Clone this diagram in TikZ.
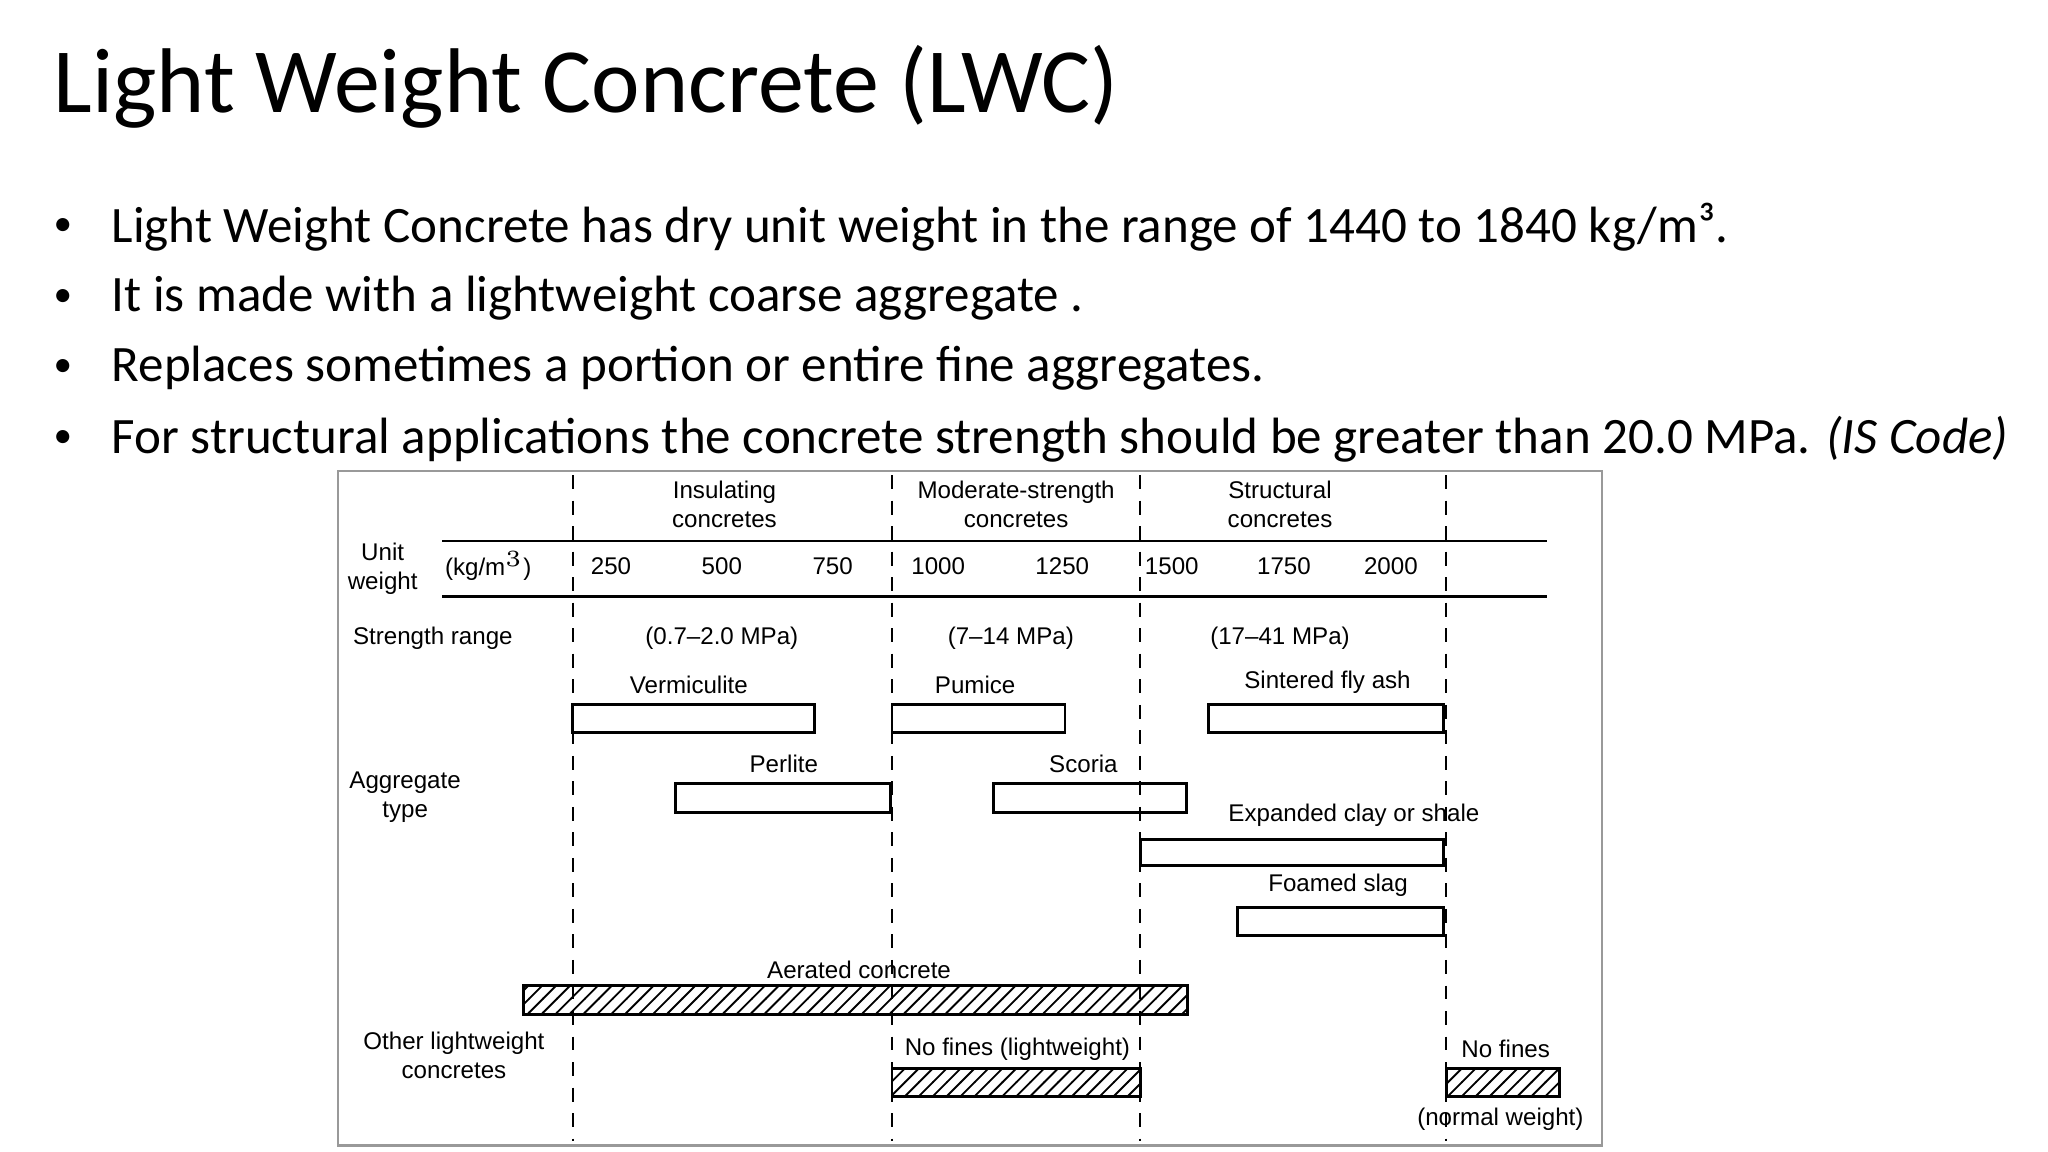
\documentclass[tikz,border=0pt]{standalone}
\usepackage{fontspec}
\setmainfont{Carlito}
\newfontfamily\chartfont{Liberation Sans}
\usetikzlibrary{patterns}
\begin{document}
\begin{tikzpicture}[x=0.01cm,y=-0.01cm,
  lbl/.style={font=\chartfont\fontsize{5.2}{6.2}\selectfont,inner sep=0pt,align=center},
  bul/.style={font=\fontsize{11}{13}\selectfont,anchor=west,inner sep=0pt},
  vline/.style={dashed,line width=0.5pt,dash pattern=on 3pt off 2.5pt},
  abox/.style={draw,line width=0.6pt},
  hbox/.style={draw,line width=0.6pt,pattern=north east lines}]
\useasboundingbox (0,0) rectangle (1552,873);
\node[anchor=base west,inner sep=0pt,font=\fontsize{19.8}{24}\selectfont] (title) at (40,85) {Light Weight Concrete (LWC)};
\foreach \y/\t [count=\i] in {172/{Light Weight Concrete has dry unit weight in the range of 1440 to 1840 kg/m³.},
  226/{It is made with a lightweight coarse aggregate .},
  279/{Replaces sometimes a portion or entire fine aggregates.},
  333/{For structural applications the concrete strength should be greater than 20.0 MPa. \textit{(IS Code)}}}{
  \node[bul,font=\fontsize{8}{10}\selectfont] (d\i) at (40,\y) {•};
  \node[bul] (b\i) at (84,\y) {\t};
}
\node[draw=black!40,line width=0.5pt,minimum width=958*0.01cm,minimum height=511*0.01cm,anchor=north west,inner sep=0pt,outer sep=0pt] (frame) at (256,357) {};
\foreach \x/\n in {434/a,676/b,864/c,1096/d}{
  \coordinate (t\n) at (\x,360); \coordinate (e\n) at (\x,865);
  \draw[vline] (t\n) -- (e\n);
}
\coordinate (h1a) at (335,410); \coordinate (h1b) at (1172,410);
\coordinate (h2a) at (335,452); \coordinate (h2b) at (1172,452);
\draw[line width=0.6pt] (h1a) -- (h1b);
\draw[line width=0.6pt] (h2a) -- (h2b);
\node[lbl] (c1) at (549,382) {Insulating\\concretes};
\node[lbl] (c2) at (770,382) {Moderate-strength\\concretes};
\node[lbl] (c3) at (970,382) {Structural\\concretes};
\node[lbl] (uw) at (290,431) {Unit\\weight};
\node[lbl] (kg) at (370,429) {(kg/m$^3$)};
\foreach \x/\v in {463/250,547/500,631/750,711/1000,805/1250,888/1500,973/1750,1054/2000}
  \node[lbl] (n\v) at (\x,429) {\v};
\node[lbl] (sr) at (328,484) {Strength range};
\node[lbl] (s1) at (547,484) {(0.7–2.0 MPa)};
\node[lbl] (s2) at (766,484) {(7–14 MPa)};
\node[lbl] (s3) at (970,484) {(17–41 MPa)};
\node[lbl] (at) at (307,604) {Aggregate\\type};
\node[lbl] (ol) at (344,800) {Other lightweight\\concretes};
\node[lbl] (l1) at (522,519) {Vermiculite};
\draw[abox] (434,534) rectangle (617,555);
\node[lbl] (l2) at (739,519) {Pumice};
\draw[abox] (676,534) rectangle (807,555);
\node[lbl] (l3) at (1006,517) {Sintered fly ash};
\draw[abox] (916,534) rectangle (1094,555);
\node[lbl] (l4) at (594,579) {Perlite};
\draw[abox] (512,594) rectangle (675,616);
\node[lbl] (l5) at (821,579) {Scoria};
\draw[abox] (753,594) rectangle (899,616);
\node[lbl] (l6) at (1026,618) {Expanded clay or shale};
\draw[abox] (864,636) rectangle (1094,656);
\node[lbl] (l7) at (1014,671) {Foamed slag};
\draw[abox] (938,688) rectangle (1094,709);
\node[lbl] (l8) at (651,735) {Aerated concrete};
\draw[hbox] (397,747) rectangle (900,769);
\node[lbl] (l9) at (771,795) {No fines (lightweight)};
\draw[hbox] (676,810) rectangle (864,831);
\node[lbl] (l10) at (1141,795) {No fines};
\draw[hbox] (1096,810) rectangle (1182,831);
\node[lbl] (l11) at (1137,848) {(normal weight)};
\end{tikzpicture}
\end{document}
